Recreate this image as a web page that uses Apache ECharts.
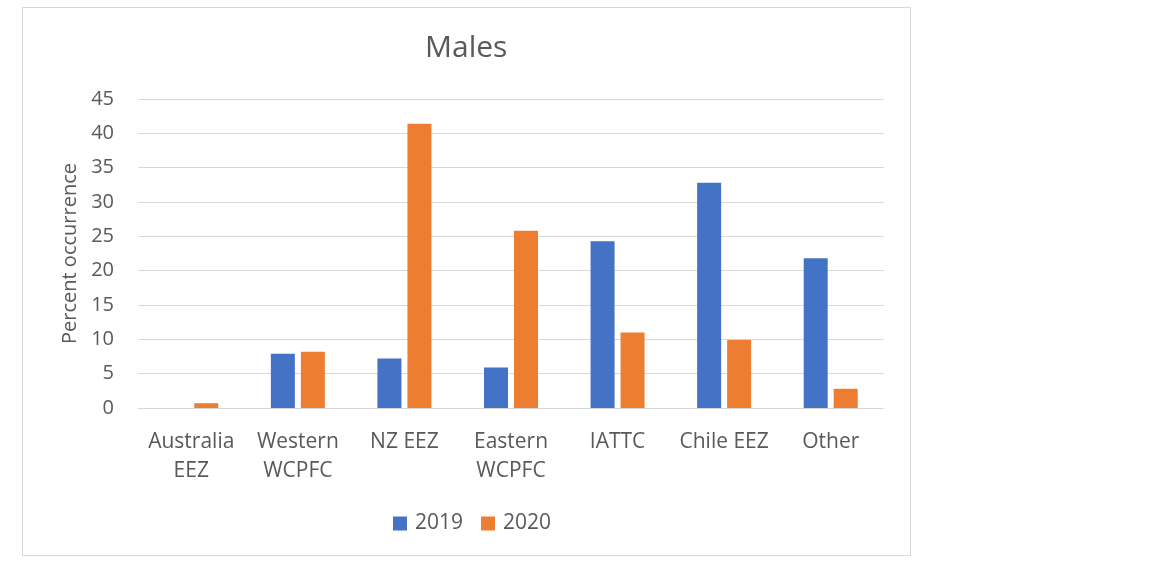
<!DOCTYPE html>
<html>
<head>
<meta charset="utf-8">
<script src="https://cdn.jsdelivr.net/npm/echarts@6/dist/echarts.min.js"></script>
<style>
  html, body { margin: 0; padding: 0; background: #fff; }
  #box {
    position: absolute;
    left: 22px; top: 7px;
    width: 887px; height: 547px;
    border: 1px solid #d9d9d9;
  }
  #chart { position: absolute; left: 0; top: 0; width: 1175px; height: 561px; }
</style>
</head>
<body>
<div id="box"></div>
<div id="chart"></div>
<script>
// values
var categories = ['Australia\nEEZ', 'Western\nWCPFC', 'NZ EEZ', 'Eastern\nWCPFC', 'IATTC', 'Chile EEZ', 'Other']
var values2019 = [0, 7.9, 7.2, 5.9, 24.3, 32.8, 21.8]
var values2020 = [0.7, 8.2, 41.4, 25.8, 11.0, 9.9, 2.8]
var yTicks = { min: 0, max: 45, interval: 5 }

var textColor = '#595959'
var chart = echarts.init(document.getElementById('chart'))
chart.setOption({
  animation: false,
  textStyle: { fontFamily: 'Open Sans' },
  graphic: [{
    type: 'text',
    left: 425,
    top: 33,
    style: { text: 'Males', fill: textColor, fontSize: 30, fontFamily: 'Open Sans' }
  }],
  legend: {
    top: 508,
    left: 388,
    itemWidth: 14,
    itemHeight: 14,
    itemGap: 18,
    icon: 'rect',
    textStyle: { color: textColor, fontSize: 21, padding: [0, 0, 0, 3] },
    data: ['2019', '2020']
  },
  grid: {
    left: 138,
    right: 291,
    top: 99,
    bottom: 153
  },
  xAxis: {
    type: 'category',
    data: categories,
    axisLine: { lineStyle: { color: '#d9d9d9', width: 1 } },
    axisTick: { show: false },
    axisLabel: { color: textColor, fontSize: 21, lineHeight: 29, margin: 20, interval: 0 }
  },
  yAxis: {
    type: 'value',
    min: yTicks.min,
    max: yTicks.max,
    interval: yTicks.interval,
    name: 'Percent occurrence',
    nameLocation: 'middle',
    nameGap: 55,
    nameTextStyle: { color: textColor, fontSize: 20 },
    axisLine: { show: false },
    axisTick: { show: false },
    axisLabel: { color: textColor, fontSize: 20, margin: 24 },
    splitLine: { lineStyle: { color: '#d9d9d9', width: 1 } }
  },
  series: [
    {
      name: '2019',
      type: 'bar',
      data: values2019,
      barWidth: 24,
      barGap: '25%',
      itemStyle: { color: '#4472c4' }
    },
    {
      name: '2020',
      type: 'bar',
      data: values2020,
      barWidth: 24,
      itemStyle: { color: '#ed7d31' }
    }
  ]
})
</script>
</body>
</html>
